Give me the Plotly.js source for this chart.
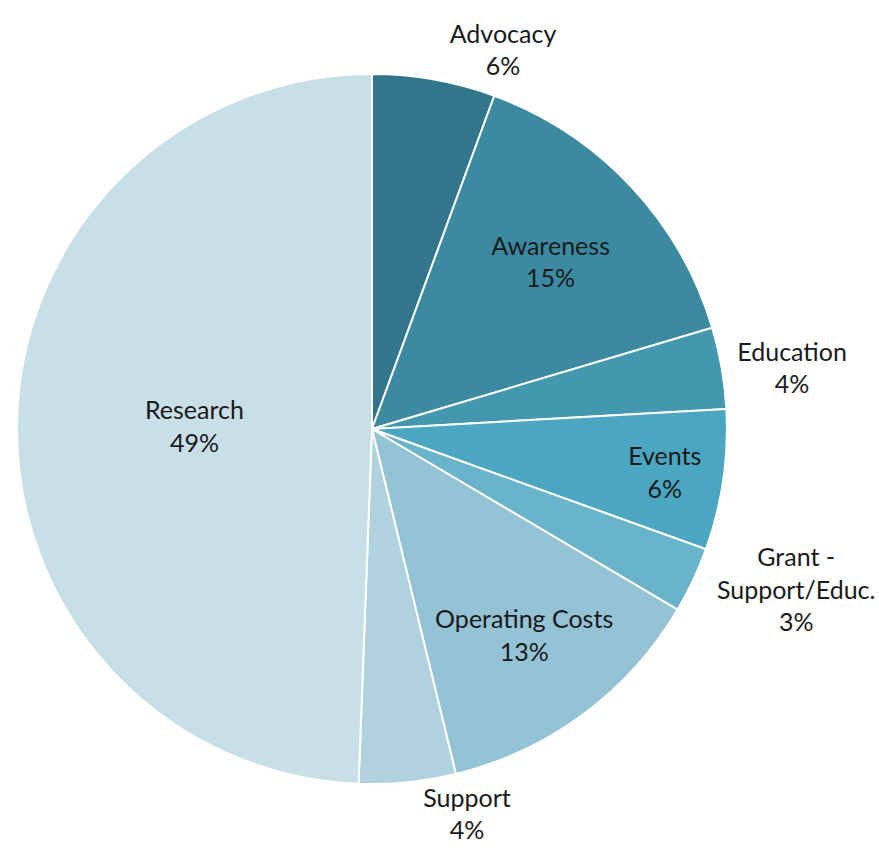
<!DOCTYPE html>
<html>
<head>
<meta charset="utf-8">
<script src="https://cdn.plot.ly/plotly-3.0.1.min.js"></script>
<style>html,body{margin:0;padding:0;background:#fff;}#chart{width:879px;height:858px;}</style>
</head>
<body>
<div id="chart"></div>
<script>
const categories = ["Advocacy", "Awareness", "Education", "Events", "Grant -<br>Support/Educ.", "Operating Costs", "Support", "Research"];
const shares = [5.6, 14.8, 3.7, 6.4, 3.0, 12.7, 4.4, 49.4];
const sliceColors = ["#31768A", "#3B8AA1", "#4398B0", "#4BA7C1", "#6AB4CB", "#93C3D5", "#AFD2DE", "#C8DFE7"];
const textPositions = ["outside", "inside", "outside", "inside", "outside", "inside", "outside", "inside"];

const labelFont = {family: "Lato, 'Open Sans', sans-serif", size: 25, color: "#1a1a1a"};

const trace = {
  type: "pie",
  labels: categories,
  values: shares,
  sort: false,
  direction: "clockwise",
  rotation: 0,
  marker: {colors: sliceColors, line: {color: "#ffffff", width: 2}},
  textposition: textPositions,
  texttemplate: "%{label}<br>%{percent:.0%}",
  hoverinfo: "label+percent",
  insidetextorientation: "horizontal",
  textfont: labelFont,
  outsidetextfont: labelFont,
  insidetextfont: labelFont,
  domain: {x: [0.0193, 0.827], y: [0.0862, 0.9138]},
  showlegend: false
};

const layout = {
  width: 879,
  height: 858,
  margin: {l: 0, r: 0, t: 0, b: 0},
  paper_bgcolor: "#ffffff",
  showlegend: false
};

Plotly.newPlot("chart", [trace], layout, {displayModeBar: false, staticPlot: true});
</script>
</body>
</html>
